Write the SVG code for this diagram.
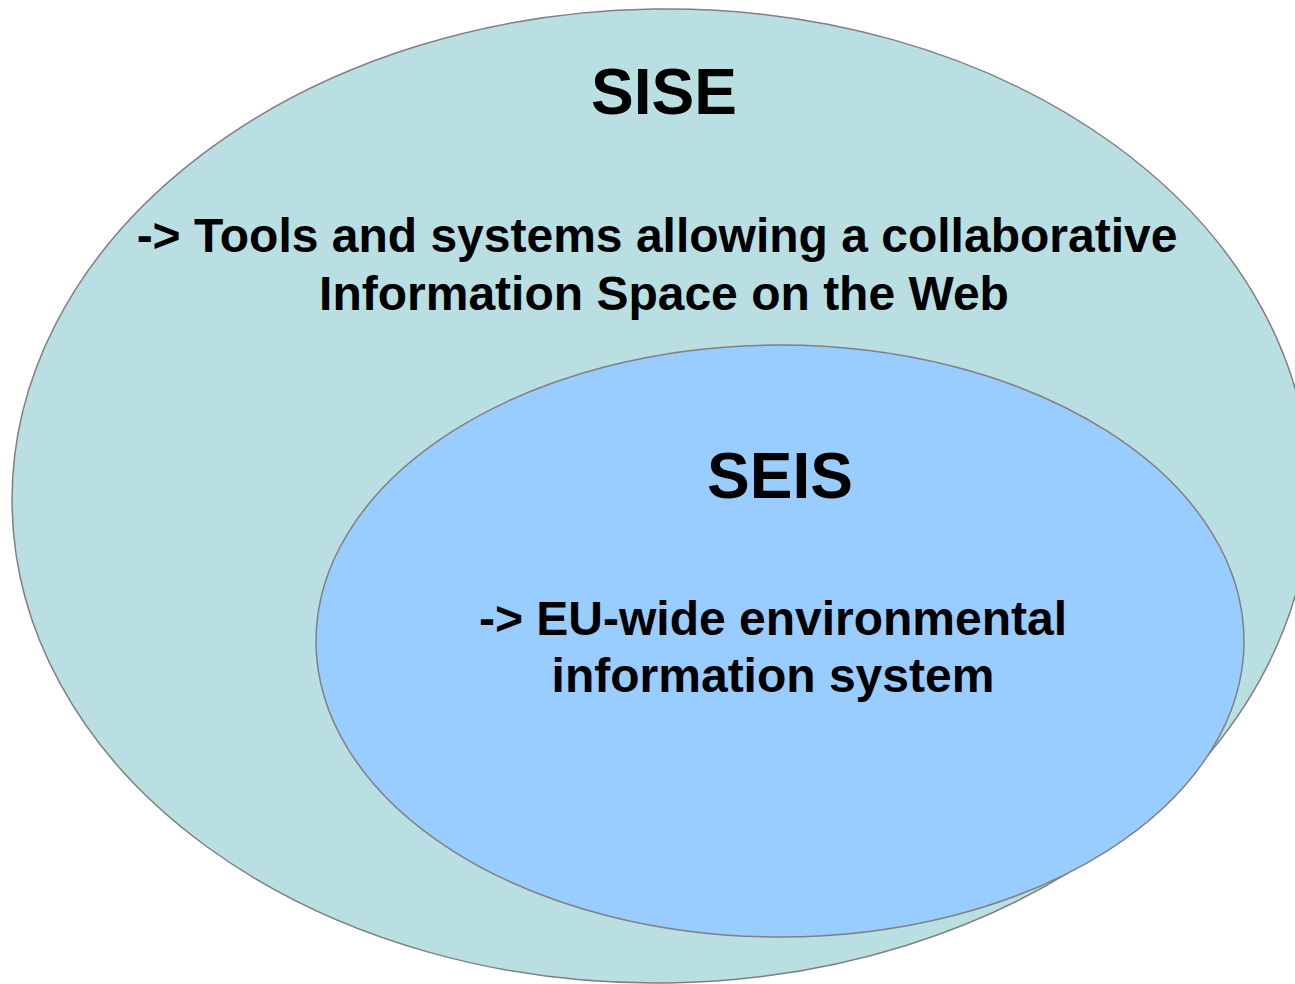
<svg xmlns="http://www.w3.org/2000/svg" width="1295" height="984" viewBox="0 0 1295 984">
<style>
.shape{stroke:#808080;stroke-width:1.5}
.title{font-family:"Liberation Sans",Arial,sans-serif;font-weight:bold;font-size:64px;fill:#000;text-anchor:middle}
.sub{font-family:"Liberation Sans",Arial,sans-serif;font-weight:bold;font-size:48px;fill:#000;text-anchor:middle}
</style>
<rect width="1295" height="984" fill="#fff"/>
<g id="sise">
<ellipse class="shape" cx="661" cy="496" rx="649" ry="487" fill="#b9dfe3" transform="rotate(-0.8 661 496)"/>
<text class="title" x="664" y="114">SISE</text>
<text class="sub" x="657" y="252">-&gt; Tools and systems allowing a collaborative</text>
<text class="sub" x="664" y="310">Information Space on the Web</text>
</g>
<g id="seis">
<ellipse class="shape" cx="780" cy="641" rx="464" ry="296" fill="#99ccff"/>
<text class="title" x="780" y="498">SEIS</text>
<text class="sub" x="773" y="635">-&gt; EU-wide environmental</text>
<text class="sub" x="773" y="692">information system</text>
</g>
<g id="connectors"/>
</svg>
